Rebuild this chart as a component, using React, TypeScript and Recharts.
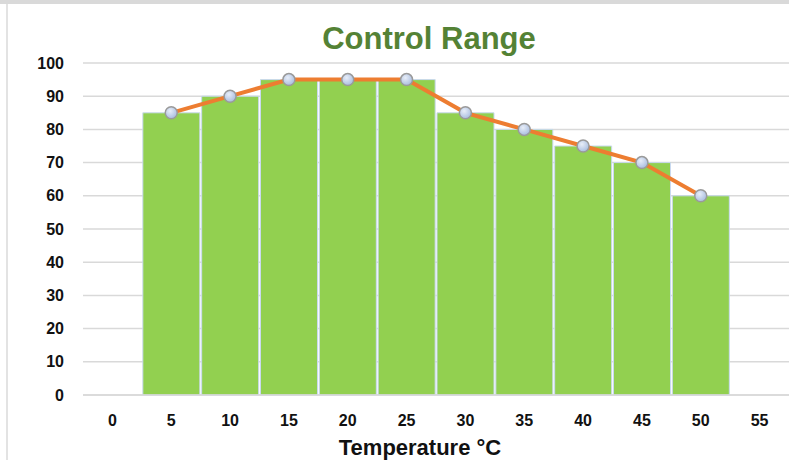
import React from 'react'
import { ComposedChart, Bar, Line, XAxis, YAxis, CartesianGrid } from 'recharts'

const temperatures = ['0', '5', '10', '15', '20', '25', '30', '35', '40', '45', '50', '55']
const rangeValues: (number | null)[] = [null, 85, 90, 95, 95, 95, 85, 80, 75, 70, 60, null]
const yTicks = [0, 10, 20, 30, 40, 50, 60, 70, 80, 90, 100]

const data = temperatures.map((t, i) => ({
  temp: t,
  bar: rangeValues[i],
  line: rangeValues[i],
}))

const FONT = '"Liberation Sans", Arial, sans-serif'

const Marker = (props: any) => {
  const { cx, cy, value } = props
  if (value == null || cx == null || cy == null) return <g />
  return (
    <circle cx={cx} cy={cy} r={6} fill="url(#dotFill)" stroke="#9a9a9a" strokeWidth={1.5} />
  )
}

export default function App() {
  return (
    <div
      style={{
        position: 'absolute',
        left: 0,
        top: 0,
        width: 789,
        height: 460,
        background: '#fff',
        fontFamily: FONT,
        overflow: 'hidden',
      }}
    >
      <div style={{ position: 'absolute', left: 0, top: 0, width: 789, height: 4, background: '#d9d9d9' }} />
      <div style={{ position: 'absolute', left: 6, top: 4, width: 2, height: 456, background: '#e3e3e3' }} />
      <div
        style={{
          position: 'absolute',
          left: 0,
          width: 858,
          top: 21,
          textAlign: 'center',
          fontSize: 31,
          fontWeight: 'bold',
          color: '#548235',
        }}
      >
        Control Range
      </div>
      <ComposedChart
        width={789}
        height={460}
        data={data}
        margin={{ top: 63, right: 0, bottom: 0, left: 13 }}
        barCategoryGap={1}
        style={{ position: 'absolute', left: 0, top: 0 }}
      >
        <defs>
          <radialGradient id="dotFill" cx="40%" cy="35%" r="65%">
            <stop offset="0%" stopColor="#e8eef8" />
            <stop offset="100%" stopColor="#a9bde0" />
          </radialGradient>
        </defs>
        <CartesianGrid vertical={false} stroke="#d9d9d9" strokeWidth={1.5} />
        <XAxis
          dataKey="temp"
          height={65}
          tickLine={false}
          tickSize={0}
          tickMargin={20}
          axisLine={{ stroke: '#d9d9d9', strokeWidth: 1.5 }}
          tick={{ fill: '#111', fontSize: 16, fontWeight: 'bold', fontFamily: FONT }}
          interval={0}
          label={{
            value: 'Temperature °C',
            position: 'insideBottom',
            offset: 5,
            dx: -16,
            fill: '#111',
            fontSize: 22,
            fontWeight: 'bold',
            fontFamily: FONT,
          }}
        />
        <YAxis
          width={70}
          domain={[0, 100]}
          ticks={yTicks}
          interval={0}
          tickLine={false}
          tickSize={0}
          tickMargin={19}
          axisLine={false}
          tick={{ fill: '#111', fontSize: 16, fontWeight: 'bold', fontFamily: FONT }}
        />
        <Bar dataKey="bar" fill="#92D050" stroke="#c9d9ef" strokeWidth={1} isAnimationActive={false} />
        <Line
          dataKey="line"
          type="linear"
          stroke="#ED7D31"
          strokeWidth={4}
          dot={<Marker />}
          activeDot={false}
          connectNulls={false}
          isAnimationActive={false}
        />
      </ComposedChart>
    </div>
  )
}
